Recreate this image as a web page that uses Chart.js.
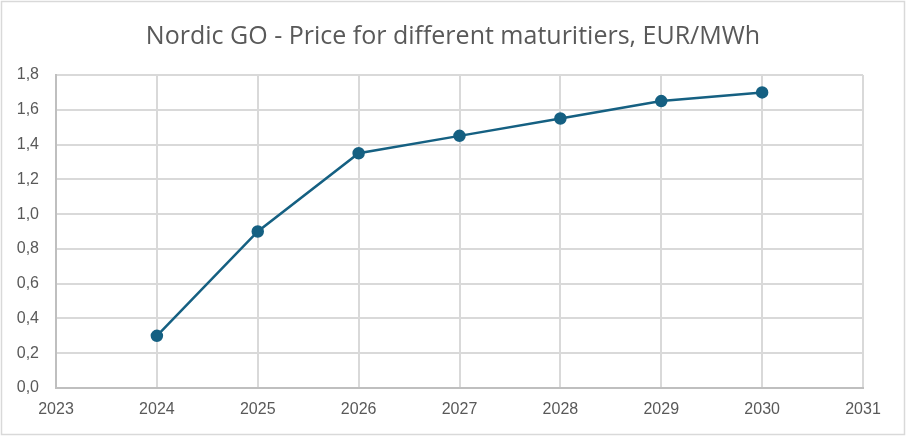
<!DOCTYPE html>
<html>
<head>
<meta charset="utf-8">
<script src="https://cdn.jsdelivr.net/npm/chart.js@4"></script>
<style>
  html, body { margin: 0; padding: 0; background: #fff; }
  #wrap { width: 906px; height: 436px; position: relative; }
</style>
</head>
<body>
<div id="wrap"><canvas id="chart" width="906" height="436"></canvas></div>
<script>
const years = [2024, 2025, 2026, 2027, 2028, 2029, 2030];
const prices = [0.3, 0.9, 1.35, 1.45, 1.55, 1.65, 1.7];
const yTicks = [0, 0.2, 0.4, 0.6, 0.8, 1.0, 1.2, 1.4, 1.6, 1.8];

const textColor = '#595959';
const gridColor = '#d9d9d9';
const lineColor = '#156082';

// light frame around the whole chart, like the Excel chart border
const frame = {
  id: 'frame',
  beforeDraw(chart) {
    const ctx = chart.ctx;
    ctx.save();
    ctx.fillStyle = '#fff';
    ctx.fillRect(0, 0, chart.width, chart.height);
    ctx.strokeStyle = gridColor;
    ctx.lineWidth = 1.5;
    ctx.strokeRect(1.5, 1.5, chart.width - 3, chart.height - 3);
    ctx.restore();
  }
};

const ctx = document.getElementById('chart').getContext('2d');
new Chart(ctx, {
  type: 'line',
  data: {
    datasets: [{
      label: 'Price',
      data: years.map((y, i) => ({ x: y, y: prices[i] })),
      borderColor: lineColor,
      backgroundColor: lineColor,
      borderWidth: 2.5,
      pointRadius: 5,
      pointHoverRadius: 5,
      tension: 0
    }]
  },
  options: {
    responsive: false,
    animation: false,
    layout: { padding: 0 },
    scales: {
      x: {
        type: 'linear',
        min: 2023,
        max: 2031,
        ticks: {
          stepSize: 1,
          padding: 12,
          color: textColor,
          font: { family: 'Liberation Sans', size: 16 },
          callback: v => String(v)
        },
        grid: { color: gridColor, lineWidth: 2, drawTicks: false },
        border: { color: '#bfbfbf', width: 2 },
        // keep the right gap inside the plot so the title stays centred on the canvas
        afterFit: s => { s.height = 48; s.paddingRight = 43; }
      },
      y: {
        min: 0,
        max: 1.8,
        afterBuildTicks: s => { s.ticks = yTicks.map(v => ({ value: v })); },
        ticks: {
          padding: 17,
          color: textColor,
          font: { family: 'Liberation Sans', size: 16 },
          callback: v => v.toFixed(1).replace('.', ',')
        },
        grid: { color: gridColor, lineWidth: 2, drawTicks: false },
        border: { color: '#bfbfbf', width: 2 },
        afterFit: s => { s.width = 56; }
      }
    },
    plugins: {
      legend: { display: false },
      tooltip: { enabled: false },
      title: {
        display: true,
        text: 'Nordic GO - Price for different maturitiers, EUR/MWh',
        color: textColor,
        font: { family: 'Open Sans', size: 25, weight: 'normal' },
        padding: { top: 22, bottom: 23 }
      }
    }
  },
  plugins: [frame]
});
</script>
</body>
</html>
